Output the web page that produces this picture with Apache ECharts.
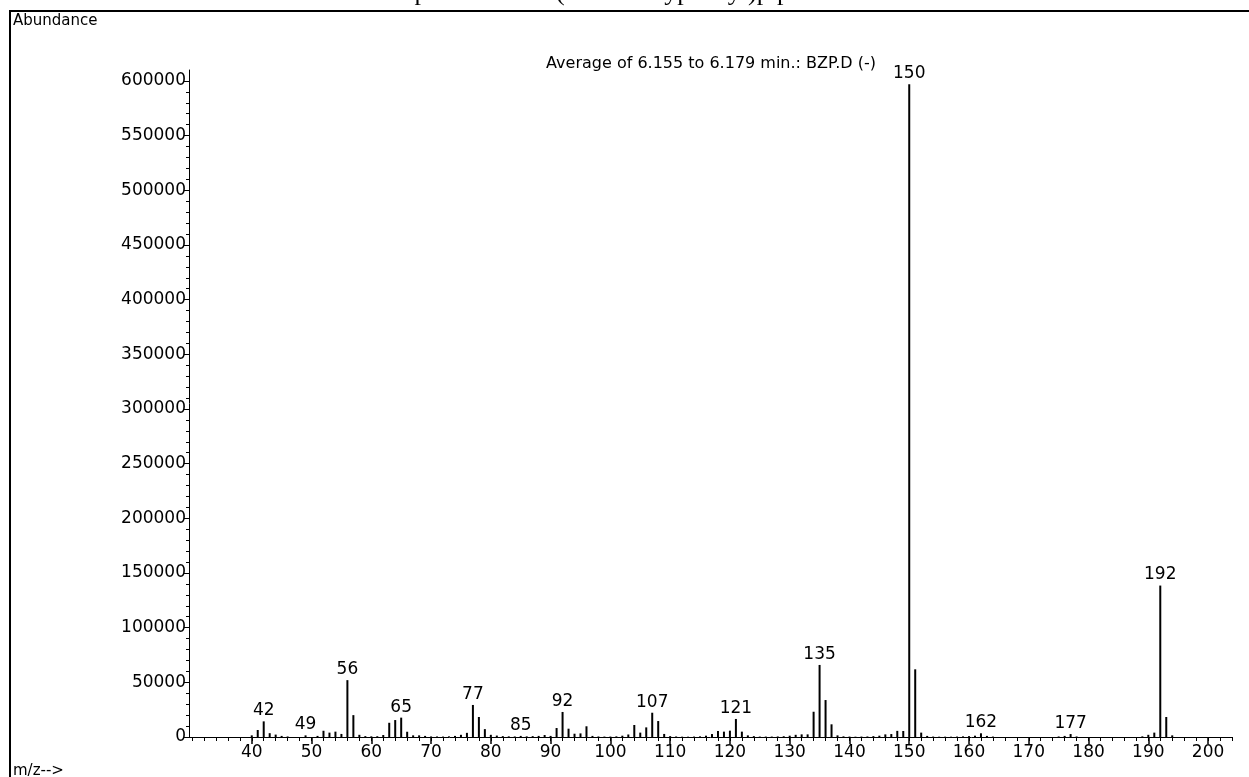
<!DOCTYPE html>
<html>
<head>
<meta charset="UTF-8">
<title>Mass spectrum</title>
<script src="https://cdn.jsdelivr.net/npm/echarts@6/dist/echarts.min.js"></script>
<style>
  html, body { margin: 0; padding: 0; background: #fff; }
  #chart { width: 1249px; height: 777px; }
</style>
</head>
<body>
<div id="chart"></div>
<script>
// m/z values and abundances
const mz = [40, 41, 42, 43, 44, 45, 46, 49, 51, 52, 53, 54, 55, 56, 57, 58, 59, 60, 61, 62,
  63, 64, 65, 66, 67, 68, 69, 70, 71, 72, 73, 74, 75, 76, 77, 78, 79, 80, 81, 82,
  83, 84, 85, 86, 87, 88, 89, 90, 91, 92, 93, 94, 95, 96, 97, 98, 99, 100, 101, 102,
  103, 104, 105, 106, 107, 108, 109, 110, 111, 112, 113, 114, 115, 116, 117, 118, 119, 120, 121, 122,
  123, 124, 125, 126, 127, 128, 129, 130, 131, 132, 133, 134, 135, 136, 137, 138, 139, 140, 141, 142,
  143, 144, 145, 146, 147, 148, 149, 150, 151, 152, 153, 154, 155, 156, 157, 158, 159, 160, 161, 162,
  163, 164, 175, 176, 177, 178, 189, 190, 191, 192, 193, 194];
const abundance = [1500, 6400, 14300, 3500, 2200, 1000, 500, 1500, 1000, 5700, 4000, 4900, 2800, 52000, 20000, 2000, 800, 600, 700, 1800,
  13000, 15500, 17700, 4800, 1500, 1500, 1000, 500, 500, 400, 600, 1000, 2000, 3800, 29300, 18300, 7200, 2000, 1300, 800,
  600, 500, 1000, 600, 800, 1000, 1800, 1000, 8200, 22900, 7600, 3000, 3300, 9800, 1000, 500, 400, 400, 600, 1200,
  2300, 11000, 4000, 8800, 22200, 14600, 2800, 800, 500, 300, 300, 400, 600, 1200, 2700, 5500, 4900, 5800, 16500, 4900,
  1500, 800, 400, 400, 400, 500, 700, 1200, 2000, 2400, 2400, 23100, 65900, 33800, 11600, 1500, 600, 400, 300, 400,
  500, 800, 1200, 2400, 2700, 5600, 5500, 597000, 61900, 4000, 1000, 400, 300, 300, 300, 400, 600, 800, 1200, 3400,
  1000, 400, 500, 1000, 2700, 500, 600, 2000, 4000, 138500, 18300, 1500];
const labeledPeaks = [42, 49, 56, 65, 77, 85, 92, 107, 121, 135, 150, 162, 177, 192];

const xMinorTicks = [];
for (let v = 30; v <= 204; v += 2) xMinorTicks.push(v);
const xMajorTicks = [40, 50, 60, 70, 80, 90, 100, 110, 120, 130, 140, 150, 160, 170, 180, 190, 200];
const yMinorTicks = [];
for (let v = 0; v <= 600000; v += 10000) yMinorTicks.push(v);
const yMajorTicks = [0, 50000, 100000, 150000, 200000, 250000, 300000, 350000, 400000, 450000, 500000, 550000, 600000];

const chart = echarts.init(document.getElementById('chart'));
const font = 'DejaVu Sans';

const barData = mz.map((m, i) => {
  const item = { value: [m, abundance[i]] };
  if (labeledPeaks.includes(m)) {
    item.label = {
      show: true, position: 'top', distance: 2,
      formatter: String(m), color: '#000', fontFamily: font, fontSize: 17
    };
  }
  return item;
});

const xBase = { type: 'value', min: 29.5, max: 204, position: 'bottom', splitLine: { show: false } };
const yBase = { type: 'value', min: 0, max: 610000, position: 'left', splitLine: { show: false } };

chart.setOption({
  animation: false,
  backgroundColor: '#fff',
  grid: { left: 189, right: 17, top: 70, bottom: 40 },
  xAxis: [
    Object.assign({}, xBase, {
      axisLine: { lineStyle: { color: '#000', width: 1 } },
      axisTick: { customValues: xMinorTicks, length: 4, lineStyle: { color: '#000' } },
      axisLabel: { show: false }
    }),
    Object.assign({}, xBase, {
      axisLine: { show: false },
      axisTick: { customValues: xMajorTicks, length: 7, lineStyle: { color: '#000', width: 1.5 } },
      axisLabel: { customValues: xMajorTicks, color: '#000', fontFamily: font, fontSize: 17, margin: 7 }
    })
  ],
  yAxis: [
    Object.assign({}, yBase, {
      axisLine: { show: true, lineStyle: { color: '#000', width: 1 } },
      axisTick: { show: true, customValues: yMinorTicks, length: 3, lineStyle: { color: '#000' } },
      axisLabel: { show: false }
    }),
    Object.assign({}, yBase, {
      offset: 0,
      axisLine: { show: false },
      axisTick: { show: true, customValues: yMajorTicks, length: 5, lineStyle: { color: '#000' } },
      axisLabel: { customValues: yMajorTicks, formatter: v => String(v), color: '#000', fontFamily: font, fontSize: 17, margin: 3 }
    })
  ],
  series: [{
    type: 'bar',
    xAxisIndex: 0,
    yAxisIndex: 0,
    barWidth: 2,
    itemStyle: { color: '#000' },
    data: barData
  }],
  graphic: [
    { type: 'polyline', shape: { points: [[10, 777], [10, 11], [1249, 11]] }, style: { stroke: '#000', lineWidth: 2, fill: null } },
    { type: 'text', x: 604, y: 6, style: { text: 'Mass spectrum of 1-(3-methoxyphenyl)piperazine', fontFamily: 'Liberation Serif', fontSize: 26, fill: '#000', align: 'center', verticalAlign: 'bottom' } },
    { type: 'text', x: 13, y: 14, style: { text: 'Abundance', fontFamily: font, fontSize: 15, fill: '#000' } },
    { type: 'text', x: 711, y: 56, style: { text: 'Average of 6.155 to 6.179 min.: BZP.D (-)', fontFamily: font, fontSize: 16, fill: '#000', align: 'center' } },
    { type: 'text', x: 13, y: 764, style: { text: 'm/z-->', fontFamily: font, fontSize: 15, fill: '#000' } }
  ]
});
</script>
</body>
</html>
